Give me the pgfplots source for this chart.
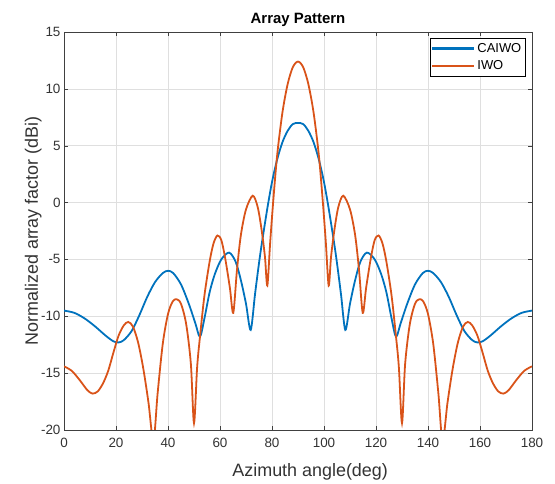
\documentclass[border=0pt]{standalone}
\usepackage{fontspec}
\setmainfont{Liberation Sans}
\usepackage{pgfplots}
\pgfplotsset{compat=1.18}

\definecolor{mblue}{HTML}{0072BD}
\definecolor{morange}{HTML}{D95319}

\begin{document}
\begin{tikzpicture}
\begin{axis}[
    width=468bp, height=398bp,
    scale only axis,
    xmin=0, xmax=180, ymin=-20, ymax=15,
    xtick={0,20,...,180},
    ytick={-20,-15,...,15},
    grid=major,
    major grid style={gray!25, line width=0.5pt},
    tick align=inside,
    axis line style={black!75},
    tick style={black!75},
    /pgf/number format/assume math mode=true,
    ticklabel style={font=\fontsize{13.5}{15}\selectfont, text=black!80},
    xticklabel style={yshift=-5bp},
    xlabel={Azimuth angle(deg)},
    ylabel={Normalized array factor (dBi)},
    xlabel style={font=\fontsize{18}{20}\selectfont, text=black!80,
        at={(axis description cs:0.526,-0.118)}, anchor=base},
    ylabel style={font=\fontsize{18}{20}\selectfont, text=black!80,
        at={(axis description cs:-0.0556,0.5)}, anchor=base},
    every axis title shift=0pt,
    title={\textbf{Array Pattern}},
    title style={font=\fontsize{15}{17}\selectfont,
        at={(axis description cs:0.5,1.0214)}, anchor=base},
    legend style={at={(1,1)}, xshift=-7bp, yshift=-6bp, anchor=north east,
        draw=black, font=\fontsize{13}{15}\selectfont, legend cell align=left,
        inner sep=1.5bp, nodes={inner ysep=3.5bp}},
    legend image code/.code={
        \draw[#1, line width=2.2pt] (0bp,0bp) -- (42bp,0bp);},
]
\addplot[mblue, line width=1.8pt, smooth, tension=0.5] coordinates {
(0,-9.5) (4,-9.7) (8,-10.2) (12,-10.9) (16,-11.7) (19,-12.2) (21,-12.3)
(23,-12.1) (26,-11.3) (29,-9.9) (32,-8.3) (35,-7.0) (38,-6.2) (40,-6.0)
(42,-6.2) (45,-7.2) (48,-8.9) (50.5,-10.6) (52.3,-11.8) (54,-10.2) (56,-7.9)
(58,-6.3) (60.5,-5.0) (63.5,-4.4) (66,-5.2) (68,-6.8) (70,-8.9) (71.8,-11.2)
(73.5,-8.0) (75.5,-4.5) (78,-0.8) (80,1.8) (82,3.8) (84,5.3) (86,6.3)
(88,6.9) (90,7.0)
(92,6.9) (94,6.3) (96,5.3) (98,3.8) (100,1.8) (102,-0.8) (104.5,-4.5)
(106.5,-8.0) (108.2,-11.2) (110,-8.9) (112,-6.8) (114,-5.2) (116.5,-4.4)
(119.5,-5.0) (122,-6.3) (124,-7.9) (126,-10.2) (127.7,-11.8) (129.5,-10.6)
(132,-8.9) (135,-7.2) (138,-6.2) (140,-6.0) (142,-6.2) (145,-7.0) (148,-8.3)
(151,-9.9) (154,-11.3) (157,-12.1) (159,-12.3) (161,-12.2) (164,-11.7)
(168,-10.9) (172,-10.2) (176,-9.7) (180,-9.5)
};
\addlegendentry{CAIWO}
\addplot[morange, line width=1.8pt, smooth, tension=0.5] coordinates {
(0,-14.4) (3,-14.8) (6,-15.6) (9,-16.5) (11,-16.8) (13,-16.6) (15,-15.9)
(17,-14.8) (19,-13.2) (21,-11.7) (23,-10.8) (24.7,-10.5) (26.5,-10.9)
(28.5,-12.3) (30.5,-14.6) (32.5,-17.6) (34.4,-21) (36,-16.8) (38,-12.4)
(40,-9.8) (41.8,-8.7) (43.3,-8.5) (45,-8.9) (47,-10.7) (48.8,-14.2)
(50,-19.4) (51.2,-14.5) (52.3,-11.8) (54,-8.2) (56,-5.2) (57.5,-3.6)
(59,-2.9) (60.5,-3.3) (62,-4.9) (63.8,-7.5) (65.1,-9.7) (66.5,-6.0)
(68,-2.9) (70,-0.6) (72.6,0.6) (74.5,-0.4) (76,-2.4) (77.3,-4.8) (78.2,-7.3)
(79.3,-3.5) (80.5,0.2) (82,4.2) (84,7.9) (86,10.4) (88,11.9) (90,12.4)
(92,11.9) (94,10.4) (96,7.9) (98,4.2) (99.5,0.2) (100.7,-3.5) (101.8,-7.3)
(102.7,-4.8) (104,-2.4) (105.5,-0.4) (107.4,0.6) (110,-0.6) (112,-2.9)
(113.5,-6.0) (114.9,-9.7) (116.2,-7.5) (118,-4.9) (119.5,-3.3) (121,-2.9)
(122.5,-3.6) (124,-5.2) (126,-8.2) (127.7,-11.8) (128.8,-14.5) (130,-19.4)
(131.2,-14.2) (133,-10.7) (135,-8.9) (136.7,-8.5) (138.2,-8.7) (140,-9.8)
(142,-12.4) (144,-16.8) (145.6,-21) (147.5,-17.6) (149.5,-14.6)
(151.5,-12.3) (153.5,-10.9) (155.3,-10.5) (157,-10.8) (159,-11.7)
(161,-13.2) (163,-14.8) (165,-15.9) (167,-16.6) (169,-16.8) (171,-16.5)
(174,-15.6) (177,-14.8) (180,-14.4)
};
\addlegendentry{IWO}
\end{axis}
\path (current axis.south west) ++(-64bp,-51bp) coordinate (bbA);
\path (current axis.north east) ++(23bp,32bp) coordinate (bbB);
\path (bbA) rectangle (bbB);
\end{tikzpicture}
\end{document}
